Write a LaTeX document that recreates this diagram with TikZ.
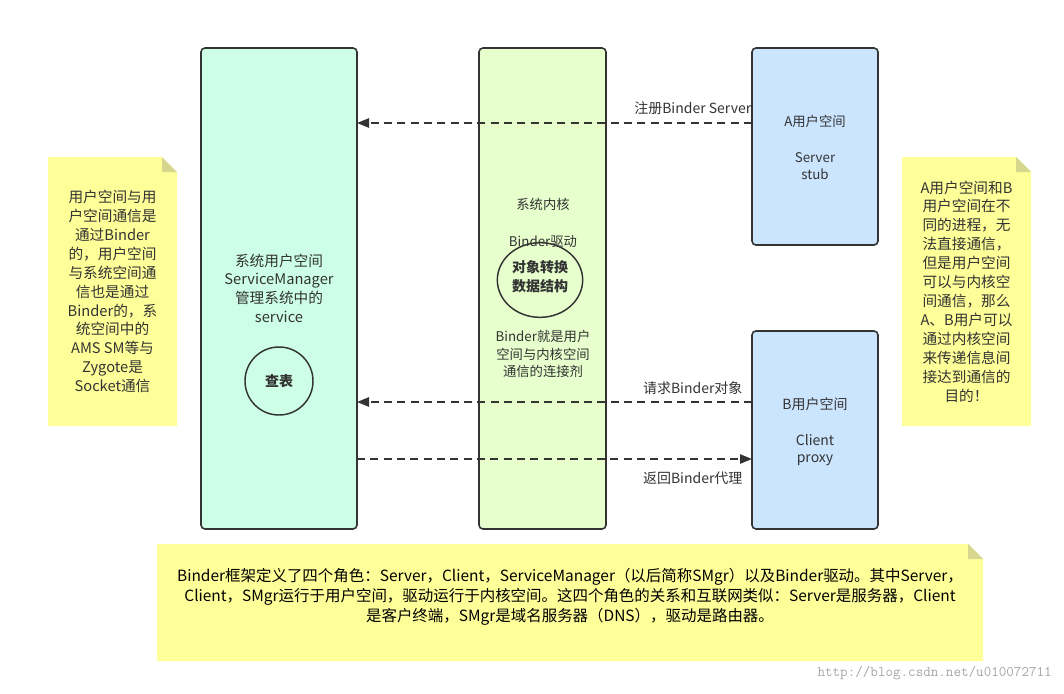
\documentclass[tikz,border=0pt]{standalone}
\usepackage{fontspec}
\setmainfont{Noto Sans CJK SC}
\usetikzlibrary{arrows.meta,calc}
\definecolor{gbox}{HTML}{CCFFE6}
\definecolor{lbox}{HTML}{E6FFCC}
\definecolor{bbox}{HTML}{CCE5FF}
\definecolor{note}{HTML}{FFFF99}
\definecolor{fold}{HTML}{D6D68F}
\definecolor{ln}{HTML}{333333}
\tikzset{
 pane/.style={draw=ln,line width=1.2pt,rounded corners=3pt},
 lbl/.style={font=\fontsize{10.5}{13}\selectfont,text=ln,align=center},
 msg/.style={draw=ln,line width=1.1pt,dash pattern=on 6pt off 4pt,-{Triangle[length=9pt,width=7pt]}},
 circ/.style={draw=ln,line width=1.1pt},
}
\newcommand{\notebox}[5]{% x1 y1 x2 y2 name
 \fill[note] (#1,#2) -- (#3-15,#2) -- (#3,#2+15) -- (#3,#4) -- (#1,#4) -- cycle;
 \fill[fold] (#3-15,#2) -- (#3,#2+15) -- (#3-15,#2+15) -- cycle;
 \coordinate (#5) at ({(#1+#3)/2},{(#2+#4)/2});}
\begin{document}
\begin{tikzpicture}[x=0.75pt,y=-0.75pt]
\useasboundingbox (0,0) rectangle (1064,693);
\notebox{48}{157}{177}{426}{nl}
\notebox{902}{157}{1031}{426}{nr}
\notebox{157}{544}{983}{661}{nb}
\node[lbl,font=\fontsize{11}{14.2}\selectfont] at (nl) {用户空间与用\\户空间通信是\\通过Binder\\的，用户空间\\与系统空间通\\信也是通过\\Binder的，系\\统空间中的\\AMS SM等与\\Zygote是\\Socket通信};
\node[lbl,font=\fontsize{11}{14.2}\selectfont] at (nr) {A用户空间和B\\用户空间在不\\同的进程，无\\法直接通信，\\但是用户空间\\可以与内核空\\间通信，那么\\A、B用户可以\\通过内核空间\\来传递信息间\\接达到通信的\\目的！};
\node[lbl,font=\fontsize{11.6}{15}\selectfont,text=black] at ($(nb)+(0,-6)$) {Binder框架定义了四个角色：Server，Client，ServiceManager（以后简称SMgr）以及Binder驱动。其中Server，\\Client，SMgr运行于用户空间，驱动运行于内核空间。这四个角色的关系和互联网类似：Server是服务器，Client\\是客户终端，SMgr是域名服务器（DNS），驱动是路由器。};
\draw[pane,fill=gbox] (201,48) rectangle (357,529);
\draw[pane,fill=lbox] (479,48) rectangle (606,529);
\draw[pane,fill=bbox] (752,48) rectangle (878,245);
\draw[pane,fill=bbox] (752,331) rectangle (878,529);
\coordinate (smR) at (357,123);
\coordinate (aL) at (752,123);
\coordinate (smR2) at (357,402);
\coordinate (bL) at (752,402);
\coordinate (smR3) at (357,459);
\coordinate (bL3) at (752,459);
\node[lbl,font=\fontsize{11}{14}\selectfont] at (279,288) {系统用户空间\\ServiceManager\\管理系统中的\\service};
\node[circ,circle,minimum size=51pt,lbl,font=\bfseries\fontsize{10.5}{13}\selectfont] (cb) at (279,381) {查表};
\node[lbl,font=\fontsize{10}{13}\selectfont] at (543,204) {系统内核};
\node[lbl,font=\fontsize{10}{13}\selectfont] at (543,242) {Binder驱动};
\draw[circ] (540,280) ellipse (32pt and 28pt);
\node[lbl,font=\bfseries\fontsize{10.5}{14}\selectfont] at (540,277) {对象转换\\数据结构};
\node[lbl,font=\fontsize{10}{13}\selectfont] at (543,354) {Binder就是用户\\空间与内核空间\\通信的连接剂};
\node[lbl,font=\fontsize{10}{13}\selectfont] at (815,121) {A用户空间};
\node[lbl,font=\fontsize{10}{13}\selectfont] at (815,166) {Server\\stub};
\node[lbl] at (815,404) {B用户空间};
\node[lbl] at (815,450) {Client\\proxy};
\draw[msg] (aL) -- node[lbl,pos=0.15,above=2pt] {注册Binder Server} (smR);
\draw[msg] (bL) -- node[lbl,pos=0.15,above=2pt] {请求Binder对象} (smR2);
\draw[msg] (smR3) -- node[lbl,pos=0.85,below=6pt] {返回Binder代理} (bL3);
\node[anchor=east,inner sep=0pt,text=black!35,font=\fontsize{11}{13}\selectfont\ttfamily] at (1052,673) {http://blog.csdn.net/u010072711};
\end{tikzpicture}
\end{document}
